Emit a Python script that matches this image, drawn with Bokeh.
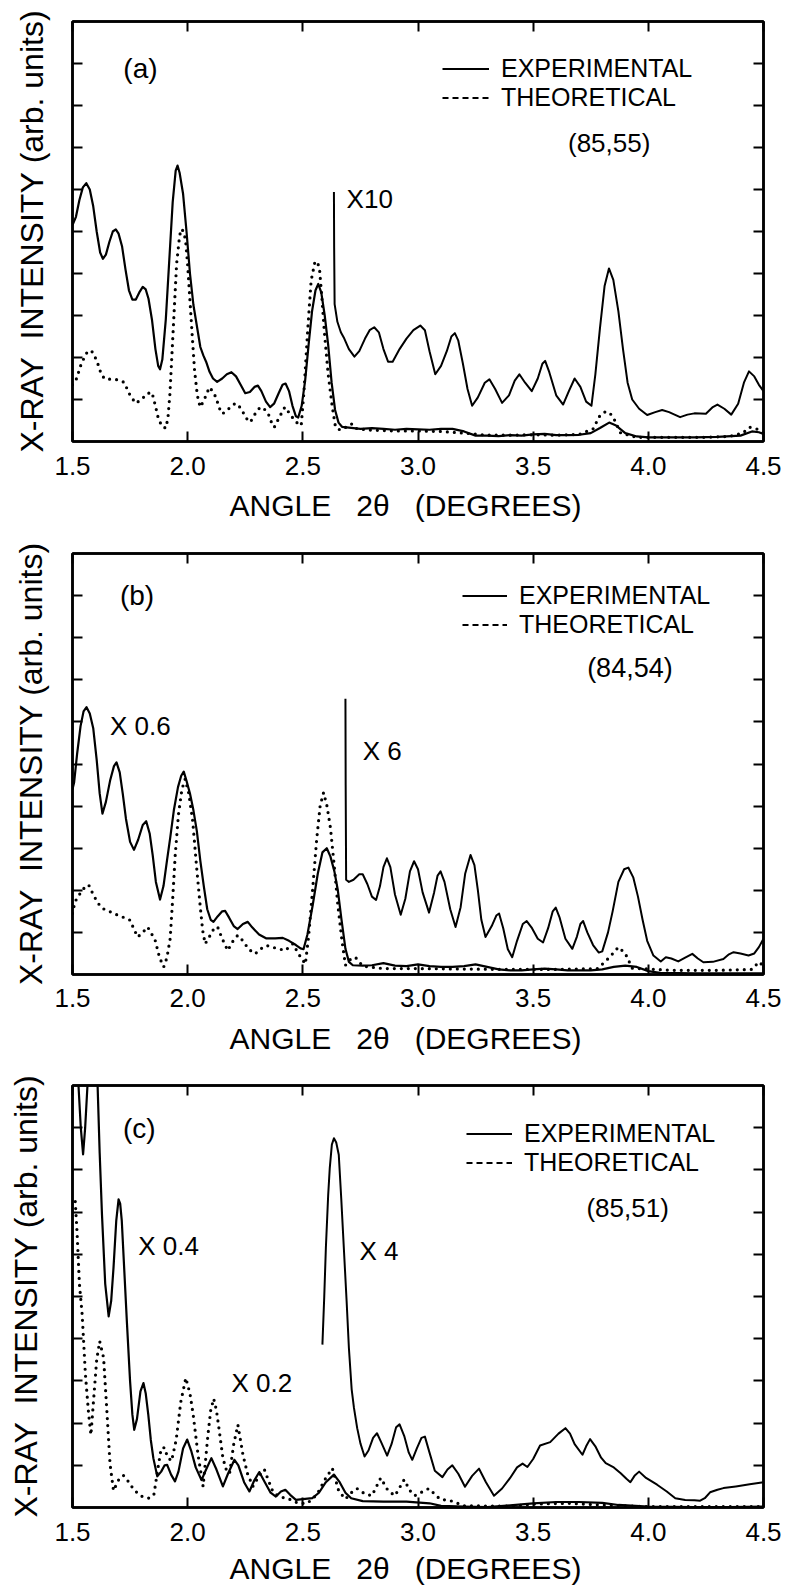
from bokeh.plotting import figure
from bokeh.models import (Range1d, LinearAxis, FixedTicker, CustomJSTickFormatter,
                          Label, Legend, LegendItem)
from bokeh.layouts import column
from bokeh.embed import file_html
from bokeh.resources import INLINE

FONT = "Liberation Sans"

# ---------------- shared axis data ----------------
X_TICKS = [1.5, 2.0, 2.5, 3.0, 3.5, 4.0, 4.5]
X_TICK_LABELS = ["1.5", "2.0", "2.5", "3.0", "3.5", "4.0", "4.5"]
Y_TICKS = [1, 2, 3, 4, 5, 6, 7, 8, 9]
X_TITLE = "ANGLE\u00a0\u00a0\u00a02\u03b8\u00a0\u00a0\u00a0(DEGREES)\u00a0\u00a0\u00a0"
Y_TITLE = "X-RAY\u00a0\u00a0INTENSITY\u00a0(arb.\u00a0units)"
LEGEND_LABELS = ["EXPERIMENTAL", "THEORETICAL"]

# ---------------- panel (a) ----------------
A_EXP_X = [1.500, 1.515, 1.530, 1.545, 1.560, 1.575, 1.590, 1.605, 1.620, 1.632, 1.645, 1.660,
           1.675, 1.688, 1.700, 1.715, 1.730, 1.745, 1.760, 1.775, 1.790, 1.805, 1.818, 1.830,
           1.845, 1.860, 1.872, 1.880, 1.890, 1.905, 1.920, 1.935, 1.948, 1.956, 1.965, 1.980,
           1.995, 2.010, 2.025, 2.040, 2.055, 2.068, 2.080, 2.095, 2.110, 2.128, 2.150, 2.170,
           2.190, 2.210, 2.230, 2.250, 2.270, 2.290, 2.305, 2.320, 2.340, 2.358, 2.375, 2.395,
           2.412, 2.425, 2.440, 2.455, 2.470, 2.480, 2.495, 2.510, 2.525, 2.540, 2.555, 2.567,
           2.580, 2.595, 2.610, 2.625, 2.640, 2.655, 2.670, 2.700, 2.750, 2.800, 2.850, 2.900,
           2.950, 3.000, 3.050, 3.100, 3.150, 3.200, 3.250, 3.300, 3.350, 3.400, 3.450, 3.500,
           3.550, 3.600, 3.650, 3.700, 3.750, 3.790, 3.830, 3.860, 3.900, 3.950, 4.000, 4.100,
           4.200, 4.300, 4.400, 4.450, 4.480, 4.500]
A_EXP_Y = [5.15, 5.35, 5.75, 6.05, 6.15, 6.00, 5.60, 5.00, 4.50, 4.35, 4.45, 4.75,
           5.00, 5.05, 4.95, 4.65, 4.10, 3.60, 3.38, 3.38, 3.55, 3.68, 3.62, 3.40,
           2.90, 2.20, 1.80, 1.72, 1.95, 2.90, 4.30, 5.70, 6.45, 6.57, 6.40, 5.90,
           5.00, 4.00, 3.25, 2.75, 2.25, 2.05, 1.90, 1.66, 1.50, 1.42, 1.50, 1.60,
           1.65, 1.55, 1.35, 1.15, 1.18, 1.30, 1.33, 1.20, 0.95, 0.82, 0.90, 1.15,
           1.35, 1.38, 1.20, 0.85, 0.60, 0.57, 0.85, 1.45, 2.30, 3.10, 3.60, 3.75,
           3.55, 3.00, 2.30, 1.40, 0.75, 0.45, 0.35, 0.33, 0.30, 0.32, 0.30, 0.28,
           0.30, 0.29, 0.28, 0.30, 0.30, 0.24, 0.14, 0.14, 0.13, 0.15, 0.14, 0.17,
           0.18, 0.15, 0.15, 0.16, 0.20, 0.32, 0.45, 0.38, 0.20, 0.12, 0.10, 0.10,
           0.10, 0.11, 0.14, 0.24, 0.22, 0.18]
A_SCALED_X = [2.635, 2.636, 2.638, 2.650, 2.665, 2.680, 2.700, 2.724, 2.745, 2.770, 2.790, 2.810,
              2.830, 2.850, 2.870, 2.890, 2.920, 2.950, 2.980, 3.010, 3.030, 3.050, 3.075, 3.100,
              3.125, 3.145, 3.160, 3.175, 3.195, 3.215, 3.235, 3.260, 3.290, 3.310, 3.335, 3.365,
              3.395, 3.420, 3.440, 3.465, 3.494, 3.520, 3.540, 3.552, 3.570, 3.600, 3.630, 3.655,
              3.680, 3.705, 3.730, 3.753, 3.770, 3.790, 3.810, 3.829, 3.848, 3.870, 3.890, 3.910,
              3.930, 3.960, 3.995, 4.030, 4.060, 4.090, 4.138, 4.170, 4.200, 4.250, 4.280, 4.300,
              4.330, 4.360, 4.390, 4.415, 4.437, 4.460, 4.480, 4.500]
A_SCALED_Y = [5.94, 4.60, 3.27, 2.85, 2.60, 2.45, 2.20, 2.02, 2.15, 2.45, 2.65, 2.72,
              2.60, 2.20, 1.90, 1.90, 2.20, 2.45, 2.65, 2.76, 2.65, 2.15, 1.60, 1.80,
              2.15, 2.50, 2.58, 2.40, 1.85, 1.25, 0.85, 1.05, 1.40, 1.48, 1.25, 0.92,
              1.10, 1.45, 1.60, 1.40, 1.20, 1.50, 1.85, 1.92, 1.65, 1.10, 0.88, 1.20,
              1.50, 1.30, 0.95, 0.85, 1.60, 2.70, 3.70, 4.12, 3.85, 3.10, 2.20, 1.40,
              1.00, 0.78, 0.63, 0.70, 0.75, 0.70, 0.58, 0.64, 0.67, 0.66, 0.82, 0.88,
              0.78, 0.64, 0.90, 1.40, 1.67, 1.55, 1.35, 1.20]
A_THEO_X = [1.500, 1.517, 1.538, 1.560, 1.581, 1.595, 1.610, 1.625, 1.640, 1.670, 1.695, 1.724,
            1.750, 1.774, 1.800, 1.823, 1.845, 1.860, 1.873, 1.890, 1.906, 1.915, 1.923, 1.937,
            1.952, 1.965, 1.973, 1.982, 1.991, 2.000, 2.009, 2.020, 2.030, 2.042, 2.054, 2.068,
            2.080, 2.094, 2.108, 2.123, 2.137, 2.151, 2.172, 2.194, 2.208, 2.222, 2.236, 2.255,
            2.272, 2.292, 2.315, 2.335, 2.350, 2.362, 2.376, 2.400, 2.422, 2.445, 2.464, 2.480,
            2.493, 2.505, 2.521, 2.536, 2.553, 2.565, 2.573, 2.583, 2.593, 2.610, 2.628, 2.642,
            2.660, 2.678, 2.695, 2.714, 2.735, 2.800, 2.900, 3.000, 3.100, 3.200, 3.300, 3.400,
            3.500, 3.600, 3.700, 3.760, 3.790, 3.810, 3.830, 3.850, 3.880, 3.950, 4.100, 4.250,
            4.350, 4.410, 4.440, 4.470, 4.500]
A_THEO_Y = [1.35, 1.49, 1.85, 2.10, 2.17, 2.05, 1.85, 1.60, 1.49, 1.48, 1.47, 1.41,
            1.10, 0.91, 1.00, 1.14, 1.17, 0.85, 0.54, 0.35, 0.32, 0.60, 1.14, 2.64,
            4.23, 4.90, 5.06, 5.00, 4.79, 4.20, 3.44, 2.50, 1.69, 1.10, 0.82, 0.95,
            1.10, 1.29, 1.20, 1.05, 0.80, 0.66, 0.75, 0.86, 0.91, 0.85, 0.74, 0.55,
            0.46, 0.65, 0.82, 0.76, 0.66, 0.48, 0.34, 0.60, 0.82, 0.65, 0.50, 0.42,
            0.38, 1.20, 2.64, 3.83, 4.29, 4.25, 4.07, 3.40, 2.64, 1.60, 0.82, 0.34,
            0.28, 0.30, 0.38, 0.42, 0.30, 0.27, 0.25, 0.25, 0.24, 0.20, 0.15, 0.15,
            0.16, 0.15, 0.17, 0.30, 0.62, 0.70, 0.70, 0.55, 0.20, 0.10, 0.10, 0.10,
            0.12, 0.20, 0.34, 0.30, 0.20]

# ---------------- panel (b) ----------------
B_EXP_X = [1.500, 1.507, 1.520, 1.535, 1.548, 1.561, 1.575, 1.590, 1.605, 1.618, 1.630, 1.645,
           1.663, 1.680, 1.691, 1.705, 1.718, 1.732, 1.750, 1.767, 1.785, 1.805, 1.820, 1.835,
           1.848, 1.862, 1.880, 1.895, 1.910, 1.924, 1.940, 1.958, 1.972, 1.983, 1.995, 2.010,
           2.025, 2.040, 2.055, 2.070, 2.085, 2.100, 2.112, 2.130, 2.150, 2.163, 2.180, 2.200,
           2.217, 2.240, 2.261, 2.280, 2.310, 2.340, 2.380, 2.413, 2.440, 2.470, 2.490, 2.503,
           2.520, 2.543, 2.565, 2.585, 2.604, 2.620, 2.637, 2.652, 2.668, 2.685, 2.700, 2.717,
           2.760, 2.800, 2.850, 2.900, 2.950, 3.000, 3.050, 3.100, 3.150, 3.200, 3.250, 3.300,
           3.350, 3.400, 3.450, 3.500, 3.550, 3.600, 3.650, 3.700, 3.750, 3.800, 3.850, 3.900,
           3.950, 4.000, 4.050, 4.200, 4.350, 4.500]
B_EXP_Y = [4.40, 4.56, 5.24, 5.90, 6.25, 6.35, 6.20, 5.85, 5.10, 4.30, 3.82, 4.10,
           4.60, 4.95, 5.04, 4.80, 4.30, 3.70, 3.15, 2.96, 3.20, 3.55, 3.64, 3.35,
           2.84, 2.20, 1.78, 2.10, 2.70, 3.24, 3.90, 4.45, 4.72, 4.82, 4.60, 4.30,
           3.90, 3.40, 2.70, 2.10, 1.55, 1.30, 1.25, 1.38, 1.50, 1.51, 1.35, 1.15,
           1.08, 1.20, 1.25, 1.12, 0.95, 0.86, 0.86, 0.87, 0.80, 0.70, 0.62, 0.60,
           0.95, 1.65, 2.40, 2.90, 3.00, 2.80, 2.45, 2.00, 1.30, 0.61, 0.30, 0.22,
           0.21, 0.22, 0.27, 0.21, 0.20, 0.24, 0.20, 0.18, 0.18, 0.20, 0.24, 0.18,
           0.12, 0.10, 0.10, 0.12, 0.14, 0.12, 0.10, 0.10, 0.10, 0.12, 0.18, 0.21,
           0.18, 0.08, 0.04, 0.03, 0.03, 0.03]
B_SCALED_X = [2.685, 2.686, 2.688, 2.700, 2.720, 2.745, 2.760, 2.780, 2.800, 2.818, 2.835, 2.850,
              2.865, 2.880, 2.900, 2.925, 2.945, 2.965, 2.983, 3.000, 3.020, 3.048, 3.070, 3.085,
              3.098, 3.115, 3.140, 3.163, 3.185, 3.205, 3.228, 3.245, 3.260, 3.275, 3.293, 3.320,
              3.340, 3.352, 3.370, 3.390, 3.409, 3.430, 3.455, 3.472, 3.495, 3.520, 3.543, 3.565,
              3.585, 3.598, 3.615, 3.640, 3.670, 3.690, 3.705, 3.717, 3.735, 3.760, 3.785, 3.800,
              3.825, 3.845, 3.870, 3.895, 3.913, 3.935, 3.955, 3.975, 3.995, 4.022, 4.054, 4.076,
              4.100, 4.130, 4.160, 4.191, 4.215, 4.239, 4.280, 4.326, 4.350, 4.370, 4.400, 4.435,
              4.460, 4.480, 4.500]
B_SCALED_Y = [6.55, 4.50, 2.25, 2.20, 2.25, 2.38, 2.38, 2.15, 1.85, 1.77, 2.10, 2.55,
              2.76, 2.55, 1.90, 1.42, 1.80, 2.45, 2.69, 2.50, 1.95, 1.47, 1.95, 2.35,
              2.45, 2.20, 1.55, 1.13, 1.60, 2.40, 2.84, 2.60, 2.00, 1.30, 0.89, 1.15,
              1.40, 1.45, 1.10, 0.60, 0.41, 0.80, 1.20, 1.27, 1.10, 0.85, 0.76, 1.10,
              1.50, 1.59, 1.35, 0.85, 0.61, 0.90, 1.20, 1.27, 1.00, 0.70, 0.52, 0.55,
              1.00, 1.50, 2.20, 2.50, 2.54, 2.30, 1.85, 1.30, 0.80, 0.45, 0.31, 0.41,
              0.38, 0.31, 0.40, 0.49, 0.38, 0.29, 0.30, 0.37, 0.48, 0.53, 0.50, 0.45,
              0.50, 0.65, 0.85]
B_THEO_X = [1.500, 1.511, 1.530, 1.550, 1.570, 1.590, 1.610, 1.630, 1.660, 1.696, 1.725, 1.750,
            1.765, 1.783, 1.805, 1.826, 1.840, 1.859, 1.878, 1.896, 1.910, 1.924, 1.935, 1.946,
            1.960, 1.975, 1.989, 2.005, 2.022, 2.038, 2.054, 2.065, 2.076, 2.100, 2.115, 2.130,
            2.150, 2.174, 2.195, 2.217, 2.240, 2.265, 2.293, 2.320, 2.343, 2.380, 2.424, 2.440,
            2.457, 2.480, 2.511, 2.525, 2.543, 2.560, 2.575, 2.590, 2.605, 2.620, 2.636, 2.652,
            2.670, 2.685, 2.705, 2.728, 2.760, 2.850, 3.000, 3.200, 3.400, 3.600, 3.780, 3.830,
            3.870, 3.900, 3.930, 4.100, 4.300, 4.450, 4.480, 4.500]
B_THEO_Y = [1.45, 1.73, 1.90, 2.05, 2.13, 1.90, 1.70, 1.57, 1.50, 1.41, 1.35, 1.29,
            1.10, 0.89, 1.00, 1.13, 1.00, 0.81, 0.40, 0.18, 0.40, 0.85, 1.80, 2.84,
            3.80, 4.40, 4.64, 4.30, 3.64, 2.60, 1.65, 1.05, 0.73, 0.95, 1.10, 1.13,
            0.85, 0.57, 0.78, 0.93, 0.80, 0.60, 0.49, 0.62, 0.69, 0.63, 0.57, 0.65,
            0.73, 0.50, 0.25, 0.90, 2.05, 3.20, 4.00, 4.32, 4.00, 3.48, 2.60, 1.65,
            0.80, 0.22, 0.35, 0.41, 0.20, 0.14, 0.14, 0.13, 0.12, 0.12, 0.14, 0.40,
            0.65, 0.50, 0.15, 0.10, 0.10, 0.12, 0.30, 0.20]

# ---------------- panel (c) ----------------
C_EXP_X = [1.500, 1.515, 1.526, 1.536, 1.546, 1.555, 1.565, 1.585, 1.600, 1.609, 1.618, 1.628,
           1.642, 1.657, 1.668, 1.678, 1.690, 1.700, 1.707, 1.714, 1.725, 1.736, 1.750, 1.760,
           1.768, 1.780, 1.795, 1.808, 1.818, 1.829, 1.840, 1.851, 1.868, 1.885, 1.900, 1.911,
           1.928, 1.945, 1.960, 1.980, 1.998, 2.015, 2.035, 2.060, 2.080, 2.103, 2.125, 2.153,
           2.175, 2.203, 2.220, 2.245, 2.268, 2.290, 2.311, 2.335, 2.360, 2.383, 2.405, 2.424,
           2.445, 2.470, 2.500, 2.541, 2.570, 2.600, 2.635, 2.660, 2.685, 2.710, 2.760, 2.850,
           2.950, 3.050, 3.100, 3.200, 3.300, 3.400, 3.500, 3.600, 3.700, 3.800, 3.870, 4.000,
           4.200, 4.350, 4.500]
C_EXP_Y = [11.5, 10.8, 10.0, 9.00, 8.37, 9.00, 10.0, 12.0, 11.0, 9.99, 8.40, 6.94,
           5.30, 4.53, 4.90, 5.68, 6.80, 7.30, 7.20, 6.79, 5.60, 4.41, 2.99, 2.20,
           1.84, 2.10, 2.75, 2.95, 2.70, 2.20, 1.60, 1.17, 0.74, 0.85, 1.00, 1.01,
           0.78, 0.62, 0.85, 1.40, 1.61, 1.35, 0.95, 0.65, 0.90, 1.17, 0.90, 0.50,
           0.80, 1.13, 1.00, 0.60, 0.38, 0.65, 0.84, 0.60, 0.35, 0.26, 0.38, 0.42,
           0.30, 0.18, 0.20, 0.22, 0.35, 0.60, 0.78, 0.60, 0.35, 0.22, 0.15, 0.14,
           0.14, 0.10, 0.04, 0.02, 0.01, 0.05, 0.10, 0.13, 0.13, 0.11, 0.06, 0.02,
           0.01, 0.01, 0.02]
C_SCALED_X = [2.585, 2.593, 2.600, 2.610, 2.617, 2.626, 2.635, 2.645, 2.656, 2.667, 2.678, 2.690,
              2.700, 2.712, 2.722, 2.736, 2.750, 2.768, 2.785, 2.805, 2.822, 2.840, 2.866, 2.885,
              2.905, 2.920, 2.940, 2.960, 2.975, 2.995, 3.015, 3.030, 3.050, 3.073, 3.106, 3.128,
              3.149, 3.175, 3.204, 3.235, 3.265, 3.295, 3.330, 3.365, 3.400, 3.430, 3.454, 3.475,
              3.500, 3.530, 3.574, 3.610, 3.640, 3.660, 3.680, 3.714, 3.730, 3.747, 3.770, 3.795,
              3.815, 3.850, 3.880, 3.905, 3.922, 3.940, 3.960, 3.990, 4.038, 4.080, 4.117, 4.160,
              4.200, 4.225, 4.245, 4.268, 4.300, 4.326, 4.380, 4.440, 4.500]
C_SCALED_Y = [3.86, 5.00, 6.15, 7.40, 8.05, 8.60, 8.75, 8.65, 8.36, 7.30, 6.15, 4.90,
              3.78, 2.80, 2.36, 1.88, 1.52, 1.21, 1.35, 1.65, 1.76, 1.55, 1.23, 1.50,
              1.90, 1.97, 1.70, 1.30, 1.13, 1.40, 1.65, 1.68, 1.30, 0.87, 0.72, 0.90,
              1.00, 0.80, 0.49, 0.75, 0.92, 0.60, 0.28, 0.45, 0.70, 0.95, 1.04, 0.96,
              1.15, 1.47, 1.55, 1.75, 1.88, 1.75, 1.50, 1.25, 1.45, 1.62, 1.45, 1.18,
              1.05, 0.95, 0.81, 0.68, 0.60, 0.75, 0.85, 0.70, 0.54, 0.38, 0.22, 0.18,
              0.17, 0.16, 0.22, 0.36, 0.42, 0.46, 0.50, 0.55, 0.60]
C_THEO_X = [1.512, 1.520, 1.530, 1.542, 1.556, 1.570, 1.580, 1.592, 1.605, 1.618, 1.635, 1.650,
            1.663, 1.678, 1.700, 1.721, 1.745, 1.764, 1.790, 1.810, 1.835, 1.854, 1.870, 1.885,
            1.900, 1.912, 1.930, 1.950, 1.970, 1.992, 2.010, 2.024, 2.045, 2.067, 2.088, 2.100,
            2.113, 2.125, 2.136, 2.153, 2.170, 2.182, 2.200, 2.218, 2.240, 2.260, 2.283, 2.310,
            2.333, 2.350, 2.369, 2.390, 2.412, 2.440, 2.480, 2.520, 2.560, 2.600, 2.628, 2.656,
            2.685, 2.710, 2.735, 2.770, 2.800, 2.838, 2.870, 2.900, 2.940, 2.965, 2.986, 3.047,
            3.095, 3.149, 3.200, 3.400, 3.500, 3.650, 3.800, 4.000, 4.500]
C_THEO_Y = [7.25, 6.50, 5.30, 4.57, 3.16, 2.22, 1.72, 2.58, 3.50, 3.94, 3.55, 2.22,
            1.03, 0.40, 0.65, 0.76, 0.60, 0.44, 0.30, 0.24, 0.22, 0.32, 0.90, 1.40,
            1.42, 1.20, 1.10, 1.60, 2.50, 3.07, 2.70, 2.20, 1.25, 0.50, 1.72, 2.30,
            2.58, 2.30, 1.87, 1.17, 0.85, 0.81, 1.50, 1.96, 1.25, 0.80, 0.50, 0.75,
            0.90, 0.65, 0.39, 0.28, 0.24, 0.20, 0.10, 0.10, 0.30, 0.70, 0.93, 0.39,
            0.20, 0.35, 0.45, 0.32, 0.28, 0.70, 0.40, 0.28, 0.66, 0.40, 0.28, 0.45,
            0.20, 0.15, 0.04, 0.03, 0.08, 0.10, 0.06, 0.02, 0.02]


def hidden_label_axis(ticks):
    return LinearAxis(ticker=FixedTicker(ticks=ticks), major_tick_in=10, major_tick_out=0,
                      minor_tick_in=0, minor_tick_out=0, major_tick_line_width=2,
                      axis_line_width=2.5, major_label_text_font_size="0px",
                      major_label_text_color=None, major_label_standoff=0)


def make_panel(exp_x, exp_y, sc_x, sc_y, th_x, th_y, notes, geom):
    (height, b_top, frame_h, b_left, b_right, ylab_standoff, tick_standoff,
     xlab_standoff, leg_loc, leg_glyph) = geom
    p = figure(width=786, height=height, x_range=Range1d(1.5, 4.5), y_range=Range1d(0, 10),
               output_backend="svg", toolbar_location=None,
               min_border_left=b_left, min_border_right=b_right,
               min_border_top=b_top, min_border_bottom=height - b_top - frame_h)
    p.xgrid.visible = False
    p.ygrid.visible = False
    p.outline_line_color = "black"
    p.outline_line_width = 2.5
    p.background_fill_color = "white"
    p.border_fill_color = "white"

    fmt = CustomJSTickFormatter(args=dict(tick_vals=X_TICKS, tick_texts=X_TICK_LABELS),
                                code="const i = tick_vals.indexOf(tick); return i >= 0 ? tick_texts[i] : '';")
    xa = p.xaxis[0]
    xa.ticker = FixedTicker(ticks=X_TICKS)
    xa.formatter = fmt
    xa.major_tick_in = 10
    xa.major_tick_out = 0
    xa.minor_tick_in = 0
    xa.minor_tick_out = 0
    xa.major_tick_line_width = 2
    xa.axis_line_width = 2.5
    xa.major_label_text_font = FONT
    xa.major_label_text_font_size = "26px"
    xa.major_label_text_color = "black"
    xa.major_label_standoff = tick_standoff
    xa.axis_label = X_TITLE
    xa.axis_label_text_font = FONT
    xa.axis_label_text_font_size = "30px"
    xa.axis_label_text_font_style = "normal"
    xa.axis_label_text_color = "black"
    xa.axis_label_standoff = xlab_standoff

    ya = p.yaxis[0]
    ya.ticker = FixedTicker(ticks=Y_TICKS)
    ya.major_tick_in = 10
    ya.major_tick_out = 0
    ya.minor_tick_in = 0
    ya.minor_tick_out = 0
    ya.major_tick_line_width = 2
    ya.axis_line_width = 2.5
    ya.major_label_text_font_size = "0px"
    ya.major_label_text_color = None
    ya.major_label_standoff = 0
    ya.axis_label = Y_TITLE
    ya.axis_label_text_font = FONT
    ya.axis_label_text_font_size = "32px"
    ya.axis_label_text_font_style = "normal"
    ya.axis_label_text_color = "black"
    ya.axis_label_standoff = ylab_standoff

    p.add_layout(hidden_label_axis(Y_TICKS), "right")
    p.add_layout(hidden_label_axis(X_TICKS), "above")

    r_exp = p.line(exp_x, exp_y, line_color="black", line_width=2.2, line_join="round")
    p.line(sc_x, sc_y, line_color="black", line_width=2.0, line_join="round")
    p.line(th_x, th_y, line_color="black", line_width=3.2, line_dash="0 7", line_cap="round")
    # legend-only sample of the theoretical curve, drawn as short dashes like the original key
    r_leg = p.line(th_x, th_y, line_color="black", line_width=2.2, line_dash="6 4", visible=False)

    legend = Legend(items=[LegendItem(label=LEGEND_LABELS[0], renderers=[r_exp]),
                           LegendItem(label=LEGEND_LABELS[1], renderers=[r_leg])],
                    location=leg_loc, orientation="vertical",
                    label_text_font=FONT, label_text_font_size="25px", label_text_color="black",
                    glyph_width=leg_glyph, glyph_height=29, label_height=29, label_standoff=12,
                    spacing=0, padding=0, margin=0,
                    inactive_fill_alpha=0,
                    border_line_alpha=0, background_fill_alpha=0)
    p.add_layout(legend)

    for text, x, y, align, size in notes:
        p.add_layout(Label(x=x, y=y, text=text, text_font=FONT, text_font_size=size,
                           text_align=align, text_baseline="middle", text_color="black"))
    return p


pa = make_panel(A_EXP_X, A_EXP_Y, A_SCALED_X, A_SCALED_Y, A_THEO_X, A_THEO_Y,
                [("(a)", 1.795, 8.88, "center", "28px"),
                 ("X10", 2.69, 5.78, "left", "26px"),
                 ("(85,55)", 3.83, 7.10, "center", "26px")],
                (540, 21, 420, 61, 23, 23, 15, 11, (370, 329), 47))
pb = make_panel(B_EXP_X, B_EXP_Y, B_SCALED_X, B_SCALED_Y, B_THEO_X, B_THEO_Y,
                [("(b)", 1.78, 9.0, "center", "28px"),
                 ("X 0.6", 1.663, 5.91, "left", "26px"),
                 ("X 6", 2.76, 5.31, "left", "26px"),
                 ("(84,54)", 3.92, 7.27, "center", "27px")],
                (532, 13, 421, 68, 23, 24, 14, 12, (390, 335), 45))
pc = make_panel(C_EXP_X, C_EXP_Y, C_SCALED_X, C_SCALED_Y, C_THEO_X, C_THEO_Y,
                [("(c)", 1.79, 8.97, "center", "28px"),
                 ("X 0.4", 1.785, 6.19, "left", "26px"),
                 ("X 0.2", 2.19, 2.95, "left", "26px"),
                 ("X 4", 2.746, 6.08, "left", "26px"),
                 ("(85,51)", 3.91, 7.10, "center", "26px")],
                (519, 13, 422, 72, 19, 29, 15, 8, (394, 330), 46))

layout = column(pa, pb, pc)
open("out.html", "w").write(file_html(layout, INLINE))
